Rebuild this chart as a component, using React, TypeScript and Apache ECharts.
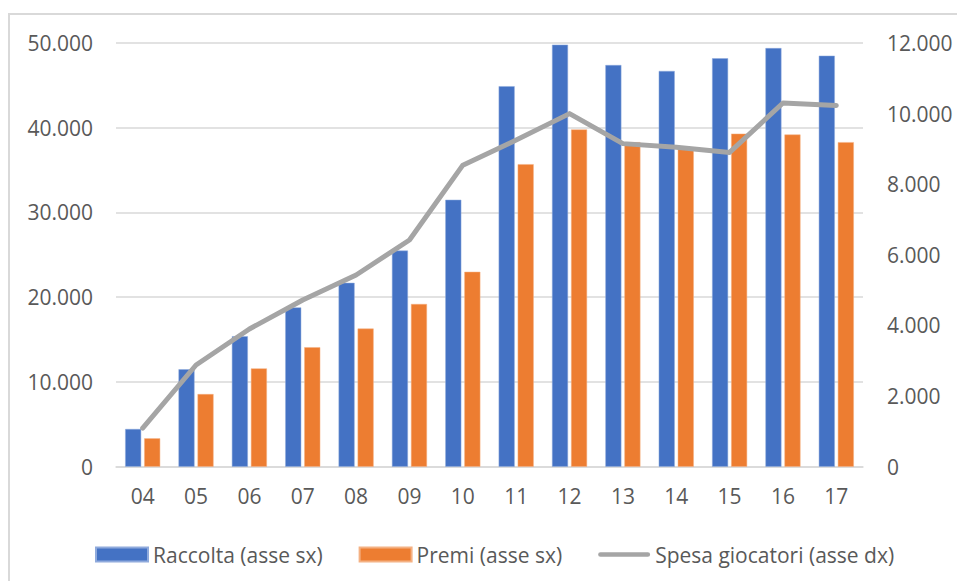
import React, { useEffect, useRef } from "react";
import * as echarts from "echarts";

// Years (two-digit) on the category axis
const years = ["04", "05", "06", "07", "08", "09", "10", "11", "12", "13", "14", "15", "16", "17"];

// Raccolta – left axis
const raccolta = [4450, 11500, 15400, 18800, 21700, 25500, 31500, 44900, 49800, 47400, 46700, 48200, 49400, 48500];

// Premi – left axis
const premi = [3350, 8570, 11600, 14100, 16300, 19200, 23000, 35700, 39800, 38300, 37500, 39300, 39200, 38300];

// Spesa giocatori – right axis
const spesa = [1090, 2880, 3900, 4720, 5430, 6420, 8540, 9250, 10000, 9150, 9050, 8900, 10300, 10230];

const seriesNames = ["Raccolta (asse sx)", "Premi (asse sx)", "Spesa giocatori (asse dx)"];

const fmtIt = (v: number) => String(v).replace(/\B(?=(\d{3})+(?!\d))/g, ".");

const FONT = "'Open Sans', 'Noto Sans', sans-serif";
const TEXT = "#595959";
const GRID = "#D9D9D9";
const LINE = "#A5A5A5";

// Rounded bar used as the legend marker of the line series
const LINE_ICON = "path://M2.5,0 L52.5,0 A2.5,2.5 0 0 1 52.5,5 L2.5,5 A2.5,2.5 0 0 1 2.5,0 Z";

export default function App() {
  const ref = useRef<HTMLDivElement>(null);

  useEffect(() => {
    if (!ref.current) return;
    const chart = echarts.init(ref.current, undefined, { renderer: "svg" });
    chart.setOption({
      animation: false,
      backgroundColor: "#ffffff",
      textStyle: { fontFamily: FONT, color: TEXT },
      grid: { left: 116, right: 94, top: 43, bottom: 114.3 },
      graphic: [
        {
          type: "rect",
          shape: { x: 9, y: 14, width: 1000, height: 700 },
          style: { fill: "none", stroke: GRID, lineWidth: 2 },
          silent: true,
          z: -10,
        },
      ],
      legend: {
        left: 95,
        top: 544,
        padding: 0,
        itemWidth: 52,
        itemHeight: 14,
        itemGap: 36,
        textStyle: { fontFamily: FONT, fontSize: 21, color: TEXT },
        data: [
          { name: seriesNames[0], icon: "rect" },
          { name: seriesNames[1], icon: "rect" },
          { name: seriesNames[2], icon: LINE_ICON, itemStyle: { color: LINE } },
        ],
      },
      xAxis: {
        type: "category",
        data: years,
        axisLine: { show: true, lineStyle: { color: GRID, width: 1.5 } },
        axisTick: { show: false },
        axisLabel: { fontFamily: FONT, fontSize: 21, color: TEXT, margin: 19 },
      },
      yAxis: [
        {
          type: "value",
          min: 0,
          max: 50000,
          interval: 10000,
          axisLine: { show: false },
          axisTick: { show: false },
          splitLine: { lineStyle: { color: GRID, width: 1.5 } },
          axisLabel: { fontFamily: FONT, fontSize: 21, color: TEXT, margin: 23, formatter: fmtIt },
        },
        {
          type: "value",
          min: 0,
          max: 12000,
          interval: 2000,
          axisLine: { show: false },
          axisTick: { show: false },
          splitLine: { show: false },
          axisLabel: { fontFamily: FONT, fontSize: 21, color: TEXT, margin: 24, formatter: fmtIt },
        },
      ],
      series: [
        {
          name: seriesNames[0],
          type: "bar",
          data: raccolta,
          barWidth: 16,
          barGap: "19%",
          itemStyle: { color: "#4472C4", borderColor: "#8FAADC", borderWidth: 0.5 },
        },
        {
          name: seriesNames[1],
          type: "bar",
          data: premi,
          barWidth: 16,
          barGap: "19%",
          itemStyle: { color: "#ED7D31", borderColor: "#F4B183", borderWidth: 0.5 },
        },
        {
          name: seriesNames[2],
          type: "line",
          yAxisIndex: 1,
          data: spesa,
          symbol: "none",
          showSymbol: false,
          lineStyle: { color: LINE, width: 5, cap: "round", join: "round" },
          itemStyle: { color: LINE },
          z: 5,
        },
      ],
    });
    return () => chart.dispose();
  }, []);

  return (
    <div
      ref={ref}
      style={{ position: "fixed", left: 0, top: 0, width: 957, height: 581, background: "#fff" }}
    />
  );
}
